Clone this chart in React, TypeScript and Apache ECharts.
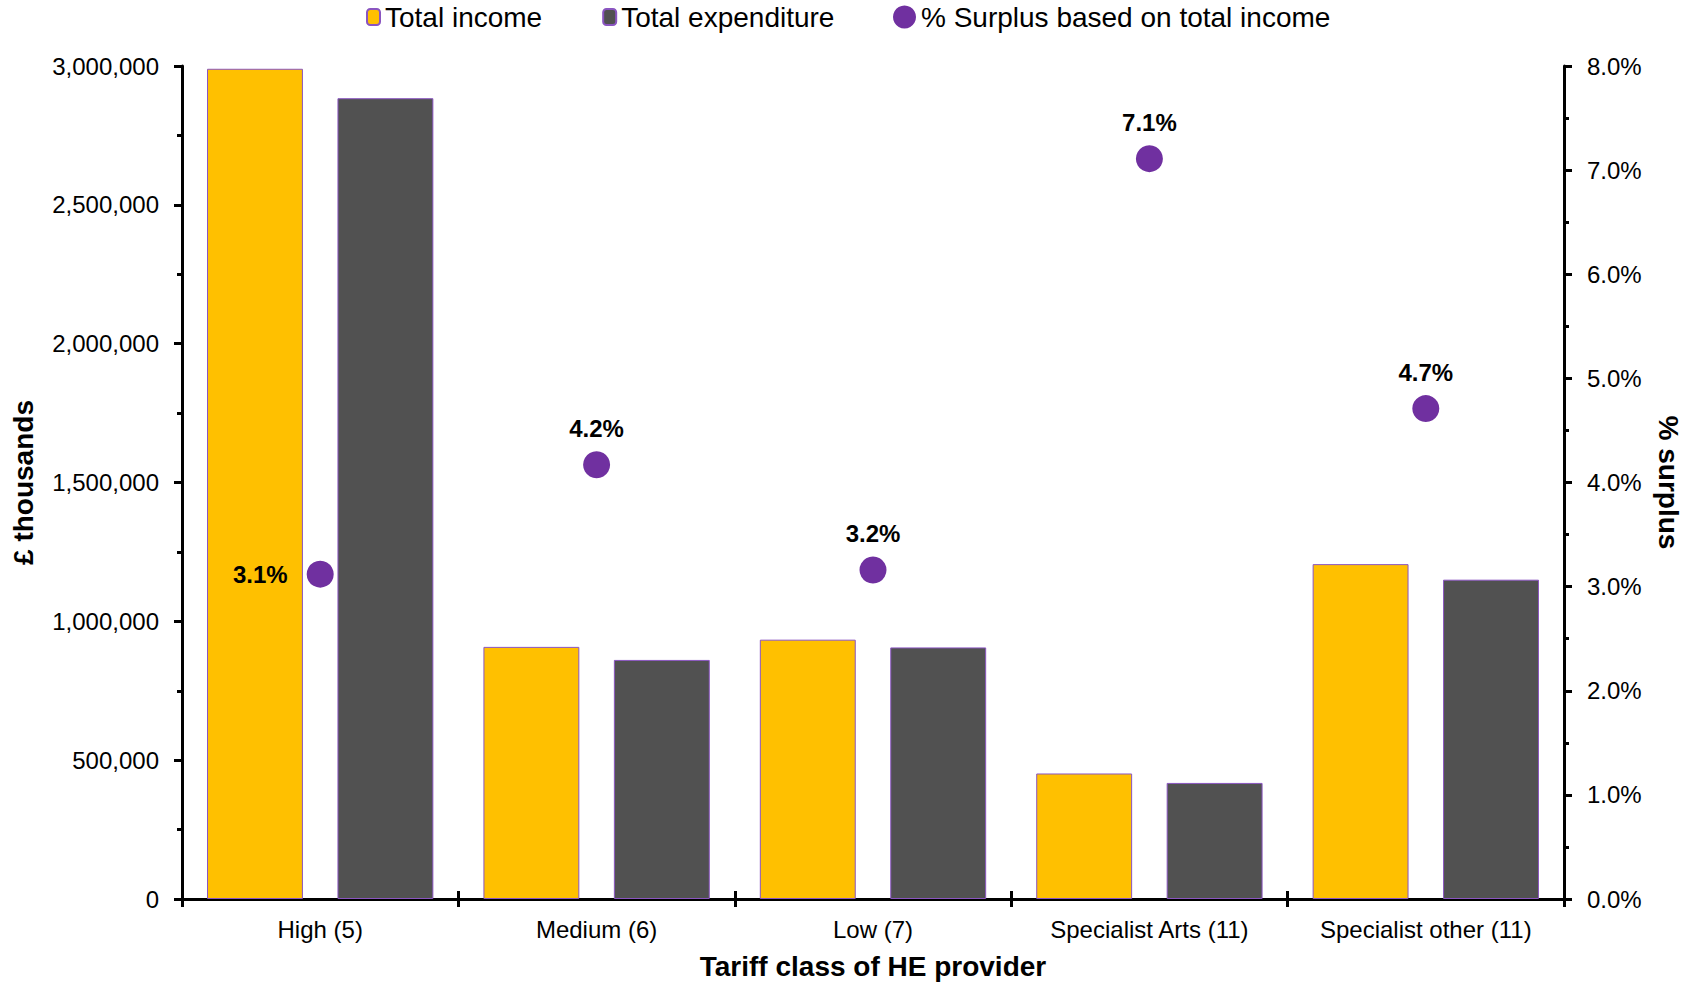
import React, { useEffect, useRef } from "react";
import * as echarts from "echarts";

const categories = ["High (5)", "Medium (6)", "Low (7)", "Specialist Arts (11)", "Specialist other (11)"];
const totalIncome = [2990000, 908000, 934000, 452000, 1206000];
const totalExpenditure = [2884000, 861000, 906000, 418000, 1150000];
const surplusPct = [3.12, 4.17, 3.16, 7.11, 4.71];
const leftTicks = { min: 0, max: 3000000, interval: 500000 };
const rightTicks = { min: 0, max: 8, interval: 1 };

const FONT = "'Liberation Sans', Arial, sans-serif";

export default function App() {
  const ref = useRef<HTMLDivElement>(null);
  useEffect(() => {
    if (!ref.current) return;
    const chart = echarts.init(ref.current, undefined, { renderer: "svg" });
    const axisLineStyle = { color: "#000", width: 3 };
    const nameStyle = { fontSize: 28, fontWeight: "bold", color: "#000", fontFamily: FONT };
    chart.setOption({
      animation: false,
      textStyle: { fontFamily: FONT },
      legend: [
        {
          data: ["Total income", "Total expenditure"],
          left: 366,
          top: 3,
          padding: 0,
          itemWidth: 13,
          itemHeight: 16,
          itemGap: 60,
          textStyle: { fontSize: 28, color: "#000", fontFamily: FONT },
        },
        {
          data: ["% Surplus based on total income"],
          left: 893,
          top: 3,
          padding: 0,
          itemWidth: 23,
          itemHeight: 23,
          itemGap: 4,
          textStyle: { fontSize: 28, color: "#000", fontFamily: FONT },
        },
      ],
      grid: { left: 182, right: 125, top: 66, bottom: 84, containLabel: false, outerBoundsMode: "none" },
      xAxis: [
        {
          type: "category",
          data: categories,
          name: "Tariff class of HE provider",
          nameLocation: "middle",
          nameGap: 53,
          nameTextStyle: nameStyle,
          axisLine: { lineStyle: axisLineStyle },
          axisTick: { show: true, length: 8, lineStyle: { color: "#000", width: 3 } },
          axisLabel: { fontSize: 24, color: "#000", margin: 18, interval: 0, fontFamily: FONT },
        },
        {
          type: "category",
          data: categories,
          position: "bottom",
          axisLine: { show: false },
          axisTick: { show: true, inside: true, length: 8, lineStyle: { color: "#000", width: 3 } },
          axisLabel: { show: false },
        },
      ],
      yAxis: [
        {
          type: "value",
          min: leftTicks.min,
          max: leftTicks.max,
          interval: leftTicks.interval,
          name: "£ thousands",
          nameLocation: "middle",
          nameGap: 145,
          nameTextStyle: nameStyle,
          axisLine: { show: true, lineStyle: axisLineStyle },
          axisTick: { show: true, length: 8, lineStyle: { color: "#000", width: 3 } },
          minorTick: { show: true, splitNumber: 2, length: 5, lineStyle: { color: "#000", width: 3 } },
          splitLine: { show: false },
          axisLabel: {
            fontSize: 24,
            color: "#000",
            margin: 23,
            fontFamily: FONT,
            formatter: (v: number) => v.toLocaleString("en-GB"),
          },
        },
        {
          type: "value",
          position: "right",
          min: rightTicks.min,
          max: rightTicks.max,
          interval: rightTicks.interval,
          name: "% surplus",
          nameLocation: "middle",
          nameGap: 90,
          nameRotate: -90,
          nameTextStyle: nameStyle,
          axisLine: { show: true, lineStyle: axisLineStyle },
          axisTick: { show: true, length: 8, lineStyle: { color: "#000", width: 3 } },
          minorTick: { show: true, splitNumber: 2, length: 5, lineStyle: { color: "#000", width: 3 } },
          splitLine: { show: false },
          axisLabel: {
            fontSize: 24,
            color: "#000",
            margin: 23,
            fontFamily: FONT,
            formatter: (v: number) => v.toFixed(1) + "%",
          },
        },
      ],
      series: [
        {
          name: "Total income",
          type: "bar",
          data: totalIncome,
          barWidth: "34.7%",
          barGap: "36%",
          itemStyle: { color: "#FFC000", borderColor: "#8A55C0", borderWidth: 1 },
        },
        {
          name: "Total expenditure",
          type: "bar",
          data: totalExpenditure,
          barWidth: "34.7%",
          barGap: "36%",
          itemStyle: { color: "#515151", borderColor: "#8A55C0", borderWidth: 1 },
        },
        {
          name: "% Surplus based on total income",
          type: "scatter",
          yAxisIndex: 1,
          symbolSize: 27,
          itemStyle: { color: "#7030A0", opacity: 1 },
          data: surplusPct.map((v, i) =>
            i === 0
              ? { value: v, label: { position: "left", distance: 19 } }
              : { value: v }
          ),
          label: {
            show: true,
            position: "top",
            distance: 11,
            fontSize: 24,
            fontWeight: "bold",
            color: "#000",
            fontFamily: FONT,
            formatter: (p: any) => (Math.round(Number(p.value) * 10) / 10).toFixed(1) + "%",
          },
        },
      ],
    });
    return () => chart.dispose();
  }, []);
  return (
    <div
      ref={ref}
      style={{ position: "absolute", left: 0, top: 0, width: 1689, height: 983 }}
    />
  );
}
